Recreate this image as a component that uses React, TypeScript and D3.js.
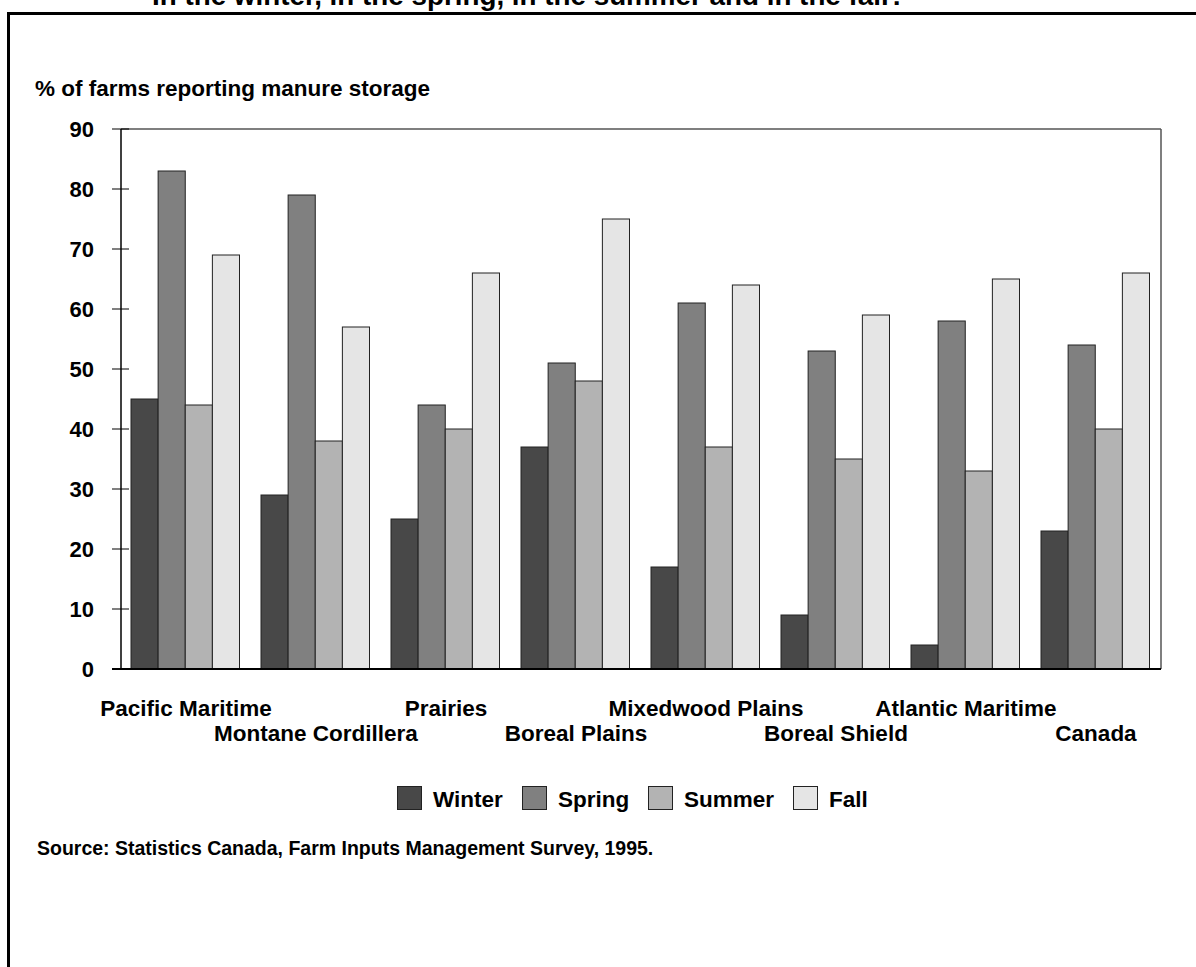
import React from "react";
import * as d3 from "d3";

const categories = [
  "Pacific Maritime",
  "Montane Cordillera",
  "Prairies",
  "Boreal Plains",
  "Mixedwood Plains",
  "Boreal Shield",
  "Atlantic Maritime",
  "Canada",
];
const seriesNames = ["Winter", "Spring", "Summer", "Fall"];
const winter = [45, 29, 25, 37, 17, 9, 4, 23];
const spring = [83, 79, 44, 51, 61, 53, 58, 54];
const summer = [44, 38, 40, 48, 37, 35, 33, 40];
const fall = [69, 57, 66, 75, 64, 59, 65, 66];
const yTicks = [0, 10, 20, 30, 40, 50, 60, 70, 80, 90];
const colors = ["#484848", "#808080", "#b3b3b3", "#e5e5e5"];
const title = "In the winter, in the spring, in the summer and in the fall?";
const yTitle = "% of farms reporting manure storage";
const source = "Source: Statistics Canada, Farm Inputs Management Survey, 1995.";

const FONT = "'Liberation Sans', Arial, Helvetica, sans-serif";

export default function App() {
  const W = 1196, H = 967;
  const left = 121, right = 1161, top = 129, bottom = 669;
  const series = [winter, spring, summer, fall];
  const x0 = d3.scaleBand<string>().domain(categories).range([left, right]);
  const x1 = d3.scaleBand<string>().domain(seriesNames).range([10, 118.5]);
  const y = d3.scaleLinear().domain([0, 90]).range([bottom, top]);

  const legendX = [397, 522, 648, 793];

  return (
    <svg width={W} height={H} style={{ position: "absolute", left: 0, top: 0, display: "block" }} fontFamily={FONT}>
      <rect x={0} y={0} width={W} height={H} fill="#fff" />
      <text x={152} y={5} fontSize={27.8} fontWeight="bold" fill="#000">{title}</text>
      <rect x={8.5} y={13.5} width={W + 20} height={H + 20} fill="none" stroke="#000" strokeWidth={3} />
      <text x={35} y={96} fontSize={22.5} fontWeight="bold" fill="#000">{yTitle}</text>

      {/* plot frame top and right */}
      <line x1={left} x2={right} y1={y(90)} y2={y(90)} stroke="#555" strokeWidth={1.5} />
      <line x1={right} x2={right} y1={y(90)} y2={bottom} stroke="#555" strokeWidth={1.5} />

      {/* bars */}
      {categories.map((c, i) => (
        <g key={c}>
          {series.map((s, j) => (
            <rect
              key={j}
              x={(x0(c) as number) + (x1(seriesNames[j]) as number)}
              y={y(s[i])}
              width={x1.bandwidth()}
              height={bottom - y(s[i])}
              fill={colors[j]}
              stroke="#222"
              strokeWidth={1}
            />
          ))}
        </g>
      ))}

      {/* y axis */}
      <line x1={left} x2={left} y1={top} y2={bottom} stroke="#000" strokeWidth={1.5} />
      {yTicks.map((t) => (
        <g key={t}>
          <line x1={112} x2={129} y1={y(t)} y2={y(t)} stroke="#000" strokeWidth={1} />
          <text x={94} y={y(t)} dy="0.35em" textAnchor="end" fontSize={22} fontWeight="bold" fill="#000">{t}</text>
        </g>
      ))}
      <line x1={112} x2={right} y1={bottom} y2={bottom} stroke="#000" strokeWidth={2} />

      {/* x labels */}
      {categories.map((c, i) => (
        <text
          key={c}
          x={(x0(c) as number) + x0.bandwidth() / 2}
          y={i % 2 === 0 ? 716 : 741}
          textAnchor="middle"
          fontSize={22.5}
          fontWeight="bold"
          fill="#000"
        >
          {c}
        </text>
      ))}

      {/* legend */}
      {seriesNames.map((n, j) => (
        <g key={n}>
          <rect x={legendX[j] + 0.5} y={786.5} width={24} height={23} fill={colors[j]} stroke="#222" strokeWidth={1} />
          <text x={legendX[j] + 36} y={807} fontSize={22.5} fontWeight="bold" fill="#000">{n}</text>
        </g>
      ))}

      <text x={37} y={855} fontSize={19.5} fontWeight="bold" fill="#000">{source}</text>
    </svg>
  );
}
